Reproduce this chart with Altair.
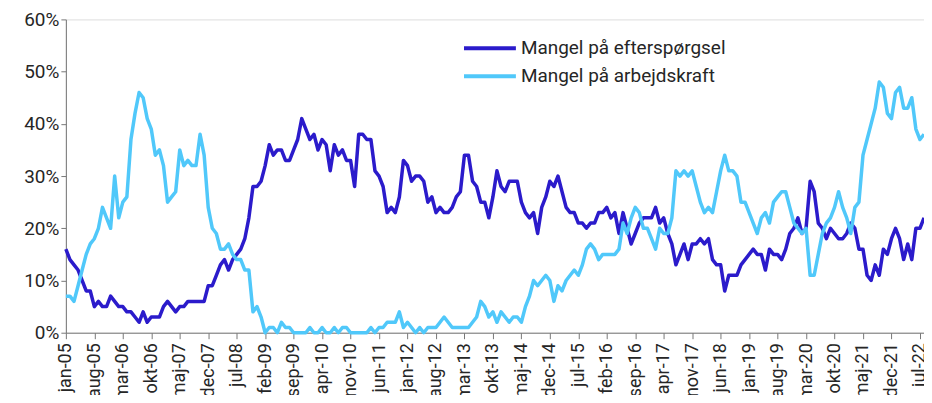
import json
import altair as alt
import pandas as pd

# ---- data -------------------------------------------------------------
series_names = ["Mangel på efterspørgsel", "Mangel på arbejdskraft"]
series_colors = ["#2b1bcb", "#50c8fa"]

tick_labels = ["jan-05", "aug-05", "mar-06", "okt-06", "maj-07", "dec-07", "jul-08",
               "feb-09", "sep-09", "apr-10", "nov-10", "jun-11", "jan-12", "aug-12",
               "mar-13", "okt-13", "maj-14", "dec-14", "jul-15", "feb-16", "sep-16",
               "apr-17", "nov-17", "jun-18", "jan-19", "aug-19", "mar-20", "okt-20",
               "maj-21", "dec-21", "jul-22"]

y_ticks = [0, 10, 20, 30, 40, 50, 60]

# monthly values (%) from jan-05
efterspoergsel = [
    16, 14, 13, 12, 10, 8, 8, 5, 6, 5, 5, 7, 6, 5, 5, 4, 4, 3, 2, 4,
    2, 3, 3, 3, 5, 6, 5, 4, 5, 5, 6, 6, 6, 6, 6, 9, 9, 11, 13, 14,
    12, 14, 15, 16, 18, 22, 28, 28, 29, 32, 36, 34, 35, 35, 33, 33, 35, 37, 41, 39,
    37, 38, 35, 37, 36, 31, 36, 34, 35, 33, 33, 28, 38, 38, 37, 37, 31, 30, 28, 23,
    24, 23, 26, 33, 32, 29, 30, 30, 29, 25, 26, 23, 24, 23, 23, 24, 26, 27, 34, 34,
    29, 28, 25, 25, 22, 26, 31, 28, 27, 29, 29, 29, 25, 23, 22, 23, 19, 24, 26, 29,
    28, 30, 27, 24, 23, 23, 21, 21, 20, 21, 21, 23, 23, 24, 22, 23, 19, 23, 20, 17,
    19, 21, 22, 22, 22, 24, 21, 22, 19, 17, 13, 15, 17, 14, 17, 17, 18, 17, 18, 14,
    13, 13, 8, 11, 11, 11, 13, 14, 15, 16, 15, 15, 12, 16, 15, 15, 14, 16, 19, 20,
    22, 19, 20, 29, 27, 21, 20, 18, 20, 19, 18, 18, 19, 21, 20, 16, 16, 11, 10, 13,
    11, 16, 15, 18, 20, 18, 14, 17, 14, 20, 20, 22,
]

arbejdskraft = [
    7, 7, 6, 9, 12, 15, 17, 18, 20, 24, 22, 20, 30, 22, 25, 26, 37, 42, 46, 45,
    41, 39, 34, 35, 32, 25, 26, 27, 35, 32, 33, 32, 32, 38, 34, 24, 20, 19, 16, 16,
    17, 15, 14, 14, 12, 12, 4, 5, 3, 0, 1, 1, 0, 2, 1, 1, 0, 0, 0, 0,
    1, 0, 0, 1, 0, 0, 1, 0, 1, 1, 0, 0, 0, 0, 0, 1, 0, 1, 1, 2,
    2, 2, 4, 1, 2, 1, 0, 1, 0, 1, 1, 1, 2, 3, 2, 1, 1, 1, 1, 1,
    2, 3, 6, 5, 3, 4, 2, 4, 3, 2, 3, 3, 2, 5, 7, 10, 9, 10, 11, 10,
    6, 9, 8, 10, 11, 12, 11, 13, 16, 17, 16, 14, 15, 15, 15, 15, 16, 21, 19, 22,
    24, 23, 20, 20, 18, 16, 20, 19, 19, 22, 31, 30, 31, 30, 31, 28, 25, 23, 24, 23,
    27, 31, 34, 31, 31, 30, 25, 25, 23, 21, 19, 22, 23, 21, 25, 26, 27, 27, 24, 21,
    20, 19, 20, 11, 11, 15, 19, 21, 22, 24, 27, 24, 22, 19, 24, 25, 34, 37, 40, 43,
    48, 47, 42, 41, 46, 47, 43, 43, 45, 39, 37, 38,
]

# ---- build table ------------------------------------------------------
rows = []
for name, vals in zip(series_names, [efterspoergsel, arbejdskraft]):
    for i, v in enumerate(vals):
        rows.append({"idx": i, "series": name, "value": v})
df = pd.DataFrame(rows)

FONT = "Roboto"
TEXT = "#262626"
n_max = len(efterspoergsel) - 1

label_expr = json.dumps(tick_labels) + "[round(datum.value / 7)]"

x_enc = alt.X(
    "idx:Q",
    scale=alt.Scale(domain=[0, n_max], nice=False, zero=False),
    axis=alt.Axis(
        title=None, values=list(range(0, 7 * len(tick_labels), 7)), labelExpr=label_expr,
        labelAngle=270, labelAlign="right", labelBaseline="middle", grid=False,
        tickSize=6, labelPadding=4, labelFontSize=18, labelFont=FONT, labelColor=TEXT,
        domainColor="#777777", tickColor="#777777", labelOverlap=False, labelFlush=False,
    ),
)
y_enc = alt.Y(
    "value:Q",
    scale=alt.Scale(domain=[0, 60], nice=False),
    axis=alt.Axis(
        title=None, values=y_ticks, labelExpr="datum.value + '%'", grid=False,
        tickSize=5, labelPadding=2, labelFontSize=19, labelFont=FONT, labelColor=TEXT,
        domainColor="#777777", tickColor="#777777",
    ),
)
color_scale = alt.Scale(domain=series_names, range=series_colors)

layers = []
for name in series_names:
    layers.append(
        alt.Chart(df)
        .transform_filter(alt.datum.series == name)
        .mark_line(strokeWidth=3.5, strokeJoin="round")
        .encode(x=x_enc, y=y_enc, color=alt.Color("series:N", scale=color_scale, legend=None))
    )

# manual legend (inside plot, upper middle)
leg_y = [29, 57]
for name, col, yy in zip(series_names, series_colors, leg_y):
    ldf = pd.DataFrame({"series": [name]})
    layers.append(
        alt.Chart(ldf).mark_rule(strokeWidth=4, color=col).encode(
            x=alt.value(399), x2=alt.value(451), y=alt.value(yy)
        )
    )
    layers.append(
        alt.Chart(ldf).mark_text(align="left", baseline="middle", fontSize=19,
                                 font=FONT, color=TEXT).encode(
            x=alt.value(456), y=alt.value(yy), text="series:N"
        )
    )

chart = (
    alt.layer(*layers)
    .properties(
        width=860, height=314,
        padding={"left": 58, "top": 11, "right": 0, "bottom": 62},
        autosize=alt.AutoSizeParams(type="none"),
    )
    .configure_view(stroke=None)
    .configure(background="white")
)

chart.save("out.html", embed_options={"renderer": "svg", "actions": False})
